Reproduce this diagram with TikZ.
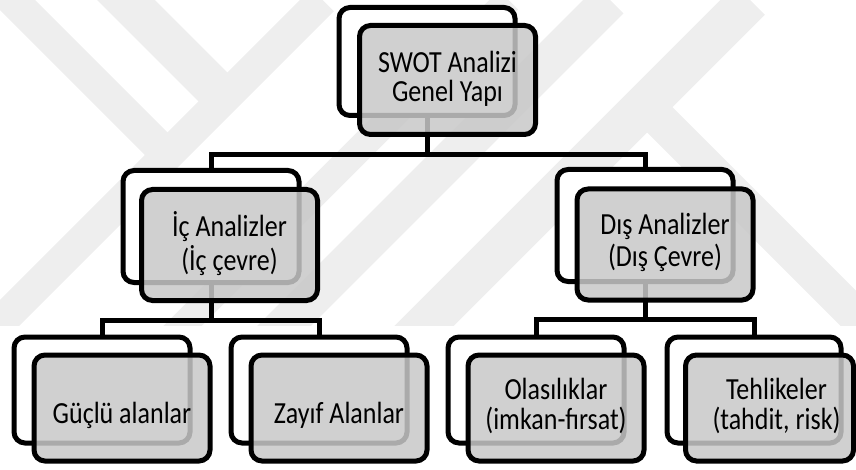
\documentclass[tikz,border=0pt]{standalone}
\usepackage{fontspec}
\setmainfont{Carlito}
\usepackage{graphicx}

\definecolor{frontgray}{RGB}{200,200,200}
\definecolor{wmgray}{RGB}{238,238,238}

% text of a box: tall-set lines, optionally lowered without changing the box size
\newcommand\boxlines[2][0pt]{%
  \raisebox{#1}[\height][\depth]{\scalebox{1}[1.18]{\begin{tabular}{@{}c@{}}#2\end{tabular}}}}

\tikzset{
  cardbase/.style={draw=black, line width=5pt, rounded corners=11pt,
    minimum width=176pt, inner sep=0pt},
  backbox/.style={cardbase, fill=white},
  frontbox/.style={cardbase, fill=frontgray, fill opacity=0.85, text opacity=1,
    text=black, font=\fontsize{26}{24}\selectfont},
  link/.style={draw=black, line width=5pt},
  wmband/.style={draw=wmgray, line width=#1},
}

\begin{document}
\begin{tikzpicture}[x=1pt, y=-1pt]
\useasboundingbox (0,0) rectangle (856,470);

% faint background emblem
\begin{scope}
  \clip (0,0) rectangle (856,325);
  \draw[wmband=32pt] (322.5,0) -- ++(-420,420);
  \draw[wmband=27pt] (508.5,0) -- ++(-420,420);
  \draw[wmband=38pt] (610,0) -- ++(-420,420);
  \draw[wmband=42pt] (750,0) -- ++(-420,420);
  \draw[wmband=32pt] (-7.5,-20) -- (167.5,155);
  \draw[wmband=41pt] (106,-20) -- (224,98);
  \draw[wmband=36pt] (645,105) -- ++(300,300);
\end{scope}

% rear cards
\node[backbox, minimum height=108pt] (swotB) at (427,61.5) {};
\node[backbox, minimum height=112pt] (icB)   at (211,226.5) {};
\node[backbox, minimum height=112pt] (disB)  at (645,225.5) {};
\node[backbox, minimum height=106pt] (gucB)  at (102,390) {};
\node[backbox, minimum height=106pt] (zayB)  at (319,390) {};
\node[backbox, minimum height=106pt] (olaB)  at (536,390) {};
\node[backbox, minimum height=106pt, minimum width=174pt] (tehB) at (754,390) {};

% tree connectors
\draw[link] (swotB.south) -- ++(0,37) -| (icB.north);
\draw[link] (swotB.south) -- ++(0,37) -| (disB.north);
\draw[link] (icB.south) -- ++(0,35) -| (gucB.north);
\draw[link] (icB.south) -- ++(0,35) -| (zayB.north);
\draw[link] (disB.south) -- ++(0,35) -| (olaB.north);
\draw[link] (disB.south) -- ++(0,35) -| (tehB.north);

% front cards with the labels
\node[frontbox, minimum height=109pt, font=\fontsize{26}{22}\selectfont] (swotF) at (447.5,80)
  {\boxlines{SWOT Analizi\\Genel Yapı}};
\node[frontbox, minimum height=111pt, font=\fontsize{26}{25.4}\selectfont] (icF) at (229.5,245)
  {\boxlines{İç Analizler\\(İç çevre)}};
\node[frontbox, minimum height=111pt, font=\fontsize{26}{25.4}\selectfont] (disF) at (665,244.5)
  {\boxlines{Dış Analizler\\(Dış Çevre)}};
\node[frontbox, minimum height=106pt] (gucF) at (122,408)
  {\boxlines[-9pt]{Güçlü alanlar}};
\node[frontbox, minimum height=106pt] (zayF) at (339,408)
  {\boxlines[-9pt]{Zayıf Alanlar}};
\node[frontbox, minimum height=106pt, font=\fontsize{26}{23.7}\selectfont] (olaF) at (556,408)
  {\boxlines{Olasılıklar\\(imkan-fırsat)}};
\node[frontbox, minimum height=106pt, minimum width=168pt, font=\fontsize{26}{23.7}\selectfont] (tehF) at (769.5,408)
  {\hspace*{14pt}\boxlines{Tehlikeler\\(tahdit, risk)}};
\end{tikzpicture}
\end{document}
